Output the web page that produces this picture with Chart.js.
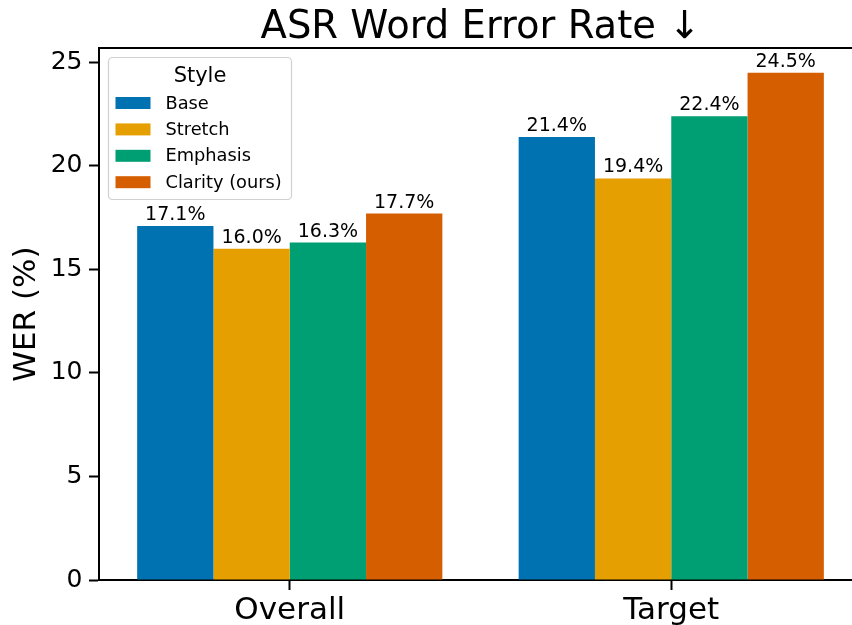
<!DOCTYPE html>
<html>
<head>
<meta charset="utf-8">
<title>ASR Word Error Rate</title>
<script src="https://cdn.jsdelivr.net/npm/chart.js@4.4.1/dist/chart.umd.min.js"></script>
<style>
    html, body { margin: 0; padding: 0; background: #fff; overflow: hidden; width: 852px; height: 625px; }
    #wrap { width: 870px; height: 625px; }
</style>
</head>
<body>
<div id="wrap"><canvas id="chart" width="870" height="625"></canvas></div>
<script>
// categories and series
const categories = ["Overall", "Target"];
const seriesNames = ["Base", "Stretch", "Emphasis", "Clarity (ours)"];
const baseWer = [17.1, 21.4];
const stretchWer = [16.0, 19.4];
const emphasisWer = [16.3, 22.4];
const clarityWer = [17.7, 24.5];
const seriesColors = ["#0072b2", "#e69f00", "#009e73", "#d55e00"];
const yTicks = [0, 5, 10, 15, 20, 25];
const yMax = 25.7;

const FONT = "'DejaVu Sans', sans-serif";
Chart.defaults.font.family = FONT;
Chart.defaults.color = "#000";

const seriesValues = [baseWer, stretchWer, emphasisWer, clarityWer];

// top spine (right spine falls outside the page)
const spinePlugin = {
    id: "spines",
    afterDraw(chart) {
        const { ctx, chartArea } = chart;
        ctx.save();
        ctx.strokeStyle = "#000";
        ctx.lineWidth = 2;
        ctx.beginPath();
        ctx.moveTo(chartArea.left - 1, chartArea.top);
        ctx.lineTo(chartArea.right + 1, chartArea.top);
        ctx.stroke();
        ctx.restore();
    }
};

// percentage labels above bars
const barLabelPlugin = {
    id: "barLabels",
    afterDatasetsDraw(chart) {
        const { ctx } = chart;
        ctx.save();
        ctx.font = "19px " + FONT;
        ctx.fillStyle = "#000";
        ctx.textAlign = "center";
        ctx.textBaseline = "alphabetic";
        chart.data.datasets.forEach((ds, i) => {
            chart.getDatasetMeta(i).data.forEach((bar, j) => {
                ctx.fillText(ds.data[j].toFixed(1) + "%", bar.x, bar.y - 6);
            });
        });
        ctx.restore();
    }
};

// legend box in the upper left of the plot
const legendPlugin = {
    id: "styleLegend",
    afterDraw(chart) {
        const { ctx, chartArea } = chart;
        const x = chartArea.left + 9;
        const y = chartArea.top + 9;
        const w = 183;
        const h = 142;
        ctx.save();
        ctx.fillStyle = "rgba(255,255,255,0.8)";
        ctx.strokeStyle = "#d0d0d0";
        ctx.lineWidth = 1.2;
        ctx.beginPath();
        ctx.roundRect(x + 0.5, y + 0.5, w, h, 4);
        ctx.fill();
        ctx.stroke();

        ctx.fillStyle = "#000";
        ctx.font = "21px " + FONT;
        ctx.textAlign = "center";
        ctx.textBaseline = "alphabetic";
        ctx.fillText("Style", x + w / 2 + 0.5, y + 25);

        ctx.font = "17.8px " + FONT;
        ctx.textAlign = "left";
        ctx.textBaseline = "middle";
        chart.data.datasets.forEach((ds, i) => {
            const cy = y + 46 + i * 26.4;
            ctx.fillStyle = ds.backgroundColor;
            ctx.fillRect(x + 7.5, cy - 6, 35, 12);
            ctx.fillStyle = "#000";
            ctx.fillText(ds.label, x + 57.5, cy + 1);
        });
        ctx.restore();
    }
};

new Chart(document.getElementById("chart"), {
    type: "bar",
    data: {
        labels: categories,
        datasets: seriesNames.map((name, i) => ({
            label: name,
            data: seriesValues[i],
            backgroundColor: seriesColors[i],
            borderWidth: 0,
            barPercentage: 1,
            categoryPercentage: 0.8
        }))
    },
    options: {
        responsive: false,
        animation: false,
        layout: { padding: { left: 0, right: 8, top: 0, bottom: 0 } },
        plugins: {
            legend: { display: false },
            tooltip: { enabled: false },
            title: {
                display: true,
                text: "ASR Word Error Rate ↓",
                fullSize: false,
                color: "#000",
                font: { size: 38.5, weight: "normal", lineHeight: 1 },
                padding: { top: 8.5, bottom: 1 }
            }
        },
        scales: {
            x: {
                afterFit(scale) { scale.height = 45; },
                grid: {
                    display: true,
                    offset: false,
                    drawOnChartArea: false,
                    drawTicks: true,
                    tickLength: 10,
                    tickWidth: 2,
                    tickColor: "#000"
                },
                border: { display: true, color: "#000", width: 2 },
                ticks: {
                    color: "#000",
                    padding: 2,
                    font: { size: 31 }
                }
            },
            y: {
                min: 0,
                max: yMax,
                afterFit(scale) { scale.width = 99; },
                afterBuildTicks(scale) {
                    scale.ticks = yTicks.map(v => ({ value: v }));
                },
                grid: {
                    display: true,
                    drawOnChartArea: false,
                    drawTicks: true,
                    tickLength: 10,
                    tickWidth: 2,
                    tickColor: "#000"
                },
                border: { display: true, color: "#000", width: 2 },
                ticks: {
                    color: "#000",
                    padding: 6.5,
                    font: { size: 25 }
                },
                title: {
                    display: true,
                    text: "WER (%)",
                    color: "#000",
                    font: { size: 31 },
                    padding: { top: 8.5, bottom: 0 }
                }
            }
        }
    },
    plugins: [spinePlugin, barLabelPlugin, legendPlugin]
});
</script>
</body>
</html>
